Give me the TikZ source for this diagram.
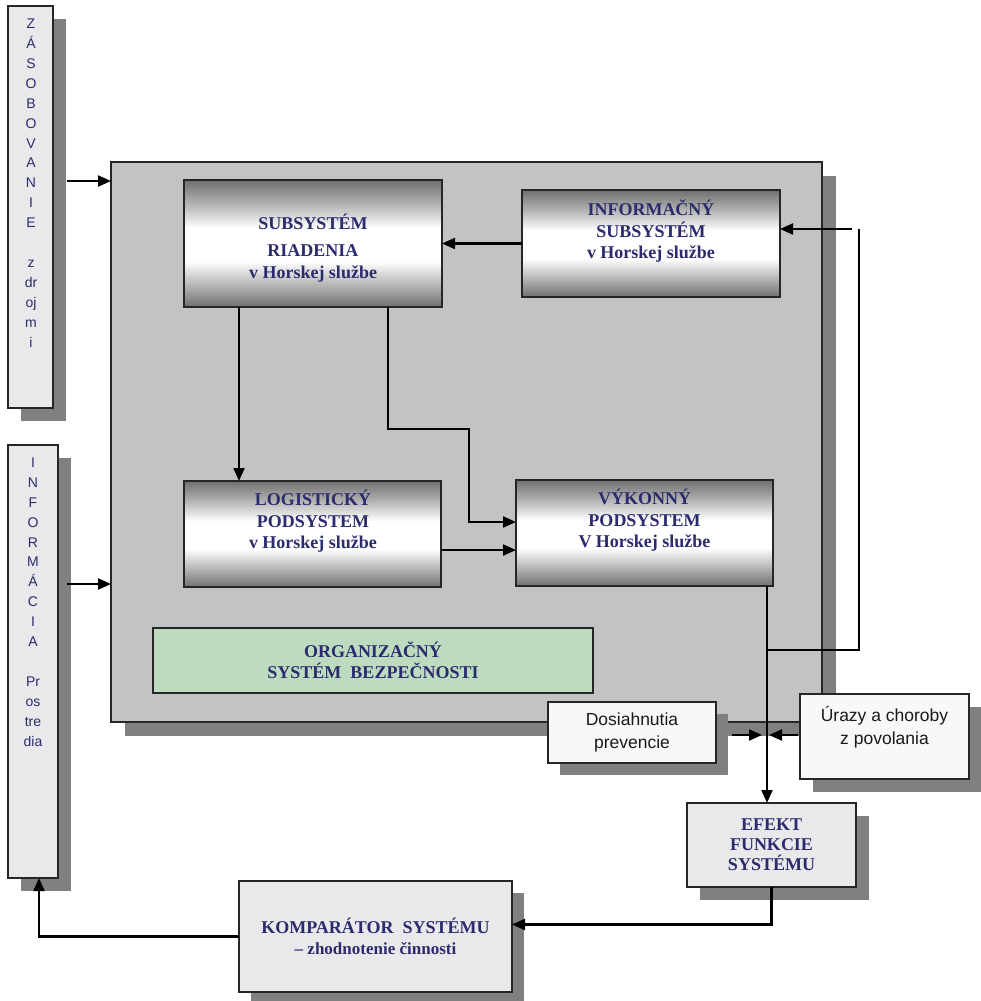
\documentclass[tikz,border=0pt]{standalone}
\usepackage{fontspec}
\setmainfont{Liberation Serif}
\newfontfamily\sansf{Liberation Sans}
\usetikzlibrary{arrows.meta,calc,shadows}
\definecolor{navy}{HTML}{2B2B6E}
\definecolor{shadowgray}{HTML}{808080}
\definecolor{maingray}{HTML}{C2C3C4}
\definecolor{lightbox}{HTML}{E9E9EB}
\definecolor{greenbox}{HTML}{BDDCBF}
\definecolor{whitebox}{HTML}{F8F8F8}
\definecolor{mdark}{HTML}{707070}
\definecolor{mmid}{HTML}{B0B0B0}
\pgfdeclareverticalshading{metal}{100bp}{color(0bp)=(mdark); color(25bp)=(mdark); color(33bp)=(mmid); color(43bp)=(white); color(56bp)=(white); color(66bp)=(mmid); color(75bp)=(mdark); color(100bp)=(mdark)}
\tikzset{
  box/.style={draw=black!85, line width=1.6pt, inner sep=0pt, outer sep=0pt, anchor=north west},
  metalbox/.style={box, shading=metal},
  shad/.style={general shadow={shadow xshift=#1, shadow yshift=-#1, fill=shadowgray, draw=none}},
  lbl/.style={font=\bfseries\fontsize{18}{21.5}\selectfont, text=navy, align=center, inner sep=0pt},
  sanslbl/.style={font=\sansf\fontsize{17.5}{22.5}\selectfont, text=black!90, align=center, inner sep=0pt},
  bartxt/.style={font=\sansf\fontsize{14}{19.9}\selectfont, text=navy, align=center, inner sep=0pt},
  arr/.style={line width=2.1pt, -{Triangle[length=13pt,width=11pt]}},
  fb/.style={line width=1.4pt}
}
\begin{document}
\begin{tikzpicture}[x=1pt,y=-1pt]
\useasboundingbox (0,0) rectangle (980,1001);
% left bars
\node[box, fill=lightbox, shad=13pt, minimum width=45pt, minimum height=402pt] (bar1) at (8,6) {};
\node[bartxt] (bar1t) at (31,183) {Z\\Á\\S\\O\\B\\O\\V\\A\\N\\I\\E\\[19.9pt]z\\dr\\oj\\m\\i};
\node[box, fill=lightbox, shad=13pt, minimum width=50pt, minimum height=433pt] (bar2) at (8,445) {};
\node[bartxt] (bar2t) at (33,602) {I\\N\\F\\O\\R\\M\\Á\\C\\I\\A\\[19.9pt]Pr\\os\\tre\\dia};
% main box
\node[box, fill=maingray, shad=14pt, minimum width=711pt, minimum height=560pt] (main) at (111,162) {};
% inner boxes
\node[metalbox, minimum width=258pt, minimum height=127pt] (sub) at (184,180) {};
\node[lbl] (subt) at (313,248) {SUBSYSTÉM\\[6pt]RIADENIA\\v Horskej službe};
\node[metalbox, minimum width=258pt, minimum height=107pt] (info) at (522,190) {};
\node[lbl] (infot) at (651,231.5) {INFORMAČNÝ\\SUBSYSTÉM\\v Horskej službe};
\node[metalbox, minimum width=257pt, minimum height=106pt] (log) at (184,481) {};
\node[lbl] (logt) at (313,521.5) {LOGISTICKÝ\\PODSYSTEM\\v Horskej službe};
\node[metalbox, minimum width=257pt, minimum height=106pt] (vyk) at (516,480) {};
\node[lbl] (vykt) at (644.5,520.5) {VÝKONNÝ\\PODSYSTEM\\V Horskej službe};
\node[box, fill=greenbox, minimum width=440pt, minimum height=65pt, lbl, font=\bfseries\fontsize{18}{20.5}\selectfont, draw=black!85] (org) at (153,628) {ORGANIZAČNÝ\\SYSTÉM~~BEZPEČNOSTI};
% connectors inside
\draw[arr] (info.west) -- (info.west -| sub.east);
\draw[arr] ($(sub.south west)+(55,0)$) -- ($(log.north west)+(55,0)$);
\coordinate (s2) at ($(sub.south west)+(204,0)$);
\coordinate (v2) at ($(vyk.west)+(0,-11)$);
\draw[arr] (s2) |- (469,429) |- (v2);
\coordinate (l1) at ($(log.east)+(0,16)$);
\draw[arr] (l1) -- (l1 -| vyk.west);
% bars to main
\coordinate (a1) at (67,181);
\coordinate (a2) at (67,584);
\draw[arr] (a1) -- (a1 -| main.west);
\draw[arr] (a2) -- (a2 -| main.west);
% bottom boxes
\node[box, fill=whitebox, shad=12pt, minimum width=168pt, minimum height=61pt, sanslbl] (dos) at (548,702) {Dosiahnutia\\prevencie};
\node[box, fill=whitebox, shad=13pt, minimum width=169pt, minimum height=85pt] (ura) at (800,694) {};
\node[sanslbl] (urat) at (884.5,727) {Úrazy a choroby\\z povolania};
\node[box, fill=lightbox, shad=13pt, minimum width=169pt, minimum height=84pt, lbl, font=\bfseries\fontsize{18}{20}\selectfont, draw=black!85] (efekt) at (687,803) {EFEKT\\FUNKCIE\\SYSTÉMU};
\node[box, fill=lightbox, shad=12pt, minimum width=273pt, minimum height=111pt, lbl, draw=black!85] (kom) at (239,881) {KOMPARÁTOR~~SYSTÉMU\\{\fontsize{17}{20}\selectfont – zhodnotenie činnosti}};
% output / feedback
\coordinate (vout) at ($(vyk.south east)+(-6,0)$);
\draw[arr] (vout) -- (vout |- efekt.north);
\coordinate (fbA) at (vout |- 0,650);
\coordinate (fbR) at (859,229);
\draw[fb] (fbA) -- (fbA -| fbR) -- (fbR);
\coordinate (fbS) at (852,229);
\draw[arr] (fbS) -- (fbS -| info.east);
\coordinate (j) at (767,735);
\coordinate (d1) at ($(dos.east |- j)+(16,0)$);
\coordinate (d2) at ($(j)+(-5,0)$);
\draw[arr] (d1) -- (d2);
\coordinate (u1) at ($(ura.west |- j)+(-2,0)$);
\coordinate (u2) at ($(j)+(2,0)$);
\draw[arr] (u1) -- (u2);
\coordinate (k1) at ($(kom.east)+(0,-12)$);
\draw[arr] (efekt.south) |- (k1);
\coordinate (b2) at ($(bar2.south)+(6,0)$);
\draw[arr] (kom.west) -| (b2);
\end{tikzpicture}
\end{document}
